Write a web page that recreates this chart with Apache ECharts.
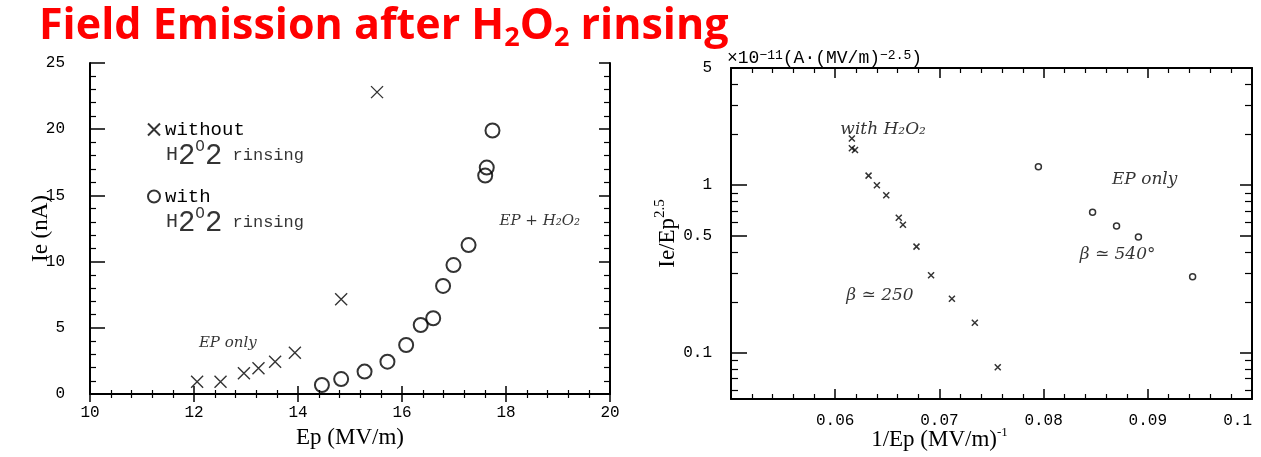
<!DOCTYPE html>
<html>
<head>
<meta charset="utf-8">
<title>Field Emission after H2O2 rinsing</title>
<script src="https://cdn.jsdelivr.net/npm/echarts/dist/echarts.min.js"></script>
<style>
  html, body { margin: 0; padding: 0; background: #fff; }
  #chart { width: 1261px; height: 457px; }
</style>
</head>
<body>
<div id="chart"></div>
<script>
// left panel: Ie (nA) vs Ep (MV/m)
const epWithout = [12.06, 12.51, 12.96, 13.24, 13.56, 13.94, 14.83, 15.52];
const ieWithout = [0.93, 0.93, 1.56, 1.94, 2.44, 3.12, 7.15, 22.8];
const epWith = [14.46, 14.83, 15.28, 15.72, 16.08, 16.36, 16.60, 16.79, 16.99, 17.28, 17.60, 17.63, 17.74];
const ieWith = [0.68, 1.13, 1.69, 2.44, 3.70, 5.21, 5.72, 8.16, 9.74, 11.25, 16.5, 17.1, 19.9];

// right panel: Ie/Ep^2.5 vs 1/Ep, log scale
const invEpH2O2 = [0.0616, 0.0616, 0.0619, 0.0632, 0.0640, 0.0649, 0.0661, 0.0665, 0.0678, 0.0692, 0.0712, 0.0734, 0.0756];
const fnH2O2 = [1.90, 1.66, 1.62, 1.14, 1.00, 0.87, 0.64, 0.58, 0.43, 0.29, 0.21, 0.151, 0.082];
const invEpOnly = [0.0795, 0.0847, 0.0870, 0.0891, 0.0943];
const fnOnly = [1.29, 0.69, 0.57, 0.49, 0.284];

// log axis labels / ticks
const fnLabels = [0.1, 0.5, 1, 5];
const fnMinorTicks = [0.06, 0.07, 0.08, 0.09, 0.2, 0.3, 0.4, 0.6, 0.7, 0.8, 0.9, 2, 3, 4];

// hand written notes (data coords)
const legendLines = [[11.46, 18.05, 'h2o2'], [11.46, 12.99, 'h2o2']];
const leftNotes = [[12.65, 3.85, 'EP only'], [18.65, 13.07, 'EP + H₂O₂']];
const rightNotes = [[0.0646, 2.16, 'with H₂O₂'], [0.0643, 0.219, 'β ≃ 250'], [0.0897, 1.086, 'EP only'], [0.0871, 0.386, 'β ≃ 540°']];

const black = '#000';
const serif = 'Liberation Serif';
const mono = 'Liberation Mono';
const hand = 'DejaVu Serif';
const crossSymbol = 'path://M0,0L10,10M10,0L0,10';

const zip = (xs, ys) => xs.map((x, i) => [x, ys[i]]);

const chart = echarts.init(document.getElementById('chart'));

const line = { lineStyle: { color: black, width: 2 } };
const tickLabel = { color: black, fontFamily: mono, fontSize: 16 };

const leftX = {
  gridIndex: 0,
  type: 'value',
  min: 10,
  max: 20,
  interval: 2,
  axisLine: line,
  axisTick: { inside: true, length: 8, lineStyle: { color: black, width: 1.5 } },
  minorTick: { show: true, splitNumber: 5, length: 4, lineStyle: { color: black, width: 1.2 } },
  splitLine: { show: false },
};

const leftY = {
  gridIndex: 0,
  type: 'value',
  min: 0,
  max: 25,
  interval: 5,
  axisLine: line,
  axisTick: { inside: true, length: 15, lineStyle: { color: black, width: 1.5 } },
  minorTick: { show: true, splitNumber: 5, length: 6, lineStyle: { color: black, width: 1.2 } },
  splitLine: { show: false },
};

const rightX = {
  gridIndex: 1,
  type: 'value',
  min: 0.05,
  max: 0.1,
  interval: 0.01,
  axisLine: line,
  axisTick: { inside: true, length: 10, lineStyle: { color: black, width: 1.5 } },
  minorTick: { show: true, splitNumber: 5, length: 5, lineStyle: { color: black, width: 1.2 } },
  splitLine: { show: false },
};

const rightY = {
  gridIndex: 1,
  type: 'log',
  logBase: 10,
  min: 0.053,
  max: 5.001,
  axisLine: line,
  splitLine: { show: false },
  axisLabel: { show: false },
};

const notesSeries = (xi, yi, data, fontSize, align) => ({
  type: 'scatter',
  xAxisIndex: xi,
  yAxisIndex: yi,
  symbolSize: 0,
  silent: true,
  data: data.map(d => ({ value: [d[0], d[1]], name: d[2] })),
  label: {
    show: true,
    position: 'inside',
    align: align,
    formatter: p => p.name === 'h2o2' ? '{n|H}{s|2}{o|O}{s|2}{r| rinsing}' : p.name,
    color: black,
    fontFamily: hand,
    fontStyle: 'italic',
    fontSize: fontSize,
    rich: {
      n: { fontFamily: mono, fontStyle: 'normal', fontSize: 20, color: black, lineHeight: 28 },
      o: { fontFamily: mono, fontStyle: 'normal', fontSize: 16, color: black, verticalAlign: 'top', lineHeight: 26 },
      s: { fontFamily: mono, fontStyle: 'normal', fontSize: 29, color: black, verticalAlign: 'bottom', lineHeight: 24 },
      r: { fontFamily: mono, fontStyle: 'normal', fontSize: 17, color: black, lineHeight: 32 },
    },
  },
});

chart.setOption({
  animation: false,
  backgroundColor: '#fff',
  title: {
    text: '{a|Field Emission after H}{b|2}{a|O}{b|2}{a| rinsing}',
    left: 39,
    top: 2,
    padding: 0,
    textStyle: {
      rich: {
        a: { fontFamily: 'Open Sans', fontWeight: 'bold', fontSize: 43, color: '#ff0000', lineHeight: 50 },
        b: { fontFamily: 'Open Sans', fontWeight: 'bold', fontSize: 27, color: '#ff0000', verticalAlign: 'bottom', lineHeight: 24 },
      },
    },
  },
  legend: {
    data: ['without', 'with'],
    orient: 'vertical',
    left: 142,
    top: 115,
    itemGap: 48,
    itemWidth: 12,
    itemHeight: 12,
    textStyle: { color: black, fontFamily: mono, fontSize: 19 },
  },
  grid: [
    { left: 90, top: 63, width: 520, height: 331, outerBoundsMode: 'none', containLabel: false },
    { left: 731, top: 68, width: 521, height: 331, outerBoundsMode: 'none', containLabel: false },
  ],
  xAxis: [
    {
      ...leftX,
      position: 'bottom',
      axisLabel: { ...tickLabel, margin: 11 },
      name: 'Ep (MV/m)',
      nameLocation: 'middle',
      nameGap: 32,
      nameTextStyle: { color: black, fontFamily: serif, fontSize: 23 },
    },
    { ...leftX, position: 'top', axisLabel: { show: false } },
    {
      ...rightX,
      position: 'bottom',
      axisLabel: { ...tickLabel, margin: 14, showMinLabel: false, alignMaxLabel: 'right' },
      name: '{n|1/Ep (MV/m)}{s|-1}',
      nameLocation: 'middle',
      nameGap: 27,
      nameMoveOverlap: false,
      nameTextStyle: {
        padding: [0, 104, 0, 0],
        rich: {
          n: { color: black, fontFamily: serif, fontSize: 23, lineHeight: 28 },
          s: { color: black, fontFamily: serif, fontSize: 13, verticalAlign: 'top', lineHeight: 14 },
        },
      },
    },
    { ...rightX, position: 'top', axisLabel: { show: false } },
  ],
  yAxis: [
    {
      ...leftY,
      position: 'left',
      axisLabel: { ...tickLabel, margin: 25 },
      name: 'Ie (nA)',
      nameLocation: 'middle',
      nameGap: 38,
      nameMoveOverlap: false,
      nameTextStyle: { color: black, fontFamily: serif, fontSize: 23 },
    },
    {
      ...leftY,
      position: 'right',
      axisTick: { ...leftY.axisTick, length: 11 },
      axisLabel: { show: false },
    },
    {
      ...rightY,
      position: 'left',
      axisTick: { inside: true, length: 16, customValues: fnLabels, lineStyle: { color: black, width: 1.5 } },
      axisLabel: { ...tickLabel, show: true, margin: 19, customValues: fnLabels },
      name: '{n|Ie/Ep}{s|2.5}',
      nameLocation: 'middle',
      nameGap: 44,
      nameTextStyle: {
        rich: {
          n: { color: black, fontFamily: serif, fontSize: 23, lineHeight: 30 },
          s: { color: black, fontFamily: serif, fontSize: 15, verticalAlign: 'top', lineHeight: 15 },
        },
      },
    },
    {
      ...rightY,
      position: 'right',
      axisTick: { inside: true, length: 12, customValues: fnLabels, lineStyle: { color: black, width: 1.5 } },
    },
    {
      ...rightY,
      position: 'left',
      axisLine: { show: false },
      axisTick: { inside: true, length: 7, customValues: fnMinorTicks, lineStyle: { color: black, width: 1.2 } },
      name: '×10{s|−11}(A·(MV/m){s|−2.5})',
      nameLocation: 'end',
      nameGap: 1,
      nameTextStyle: {
        align: 'left',
        padding: [0, 0, 0, -4],
        color: black,
        fontFamily: mono,
        fontSize: 18,
        rich: { s: { color: black, fontFamily: mono, fontSize: 13, verticalAlign: 'top', lineHeight: 12 } },
      },
    },
    {
      ...rightY,
      position: 'right',
      axisLine: { show: false },
      axisTick: { inside: true, length: 7, customValues: fnMinorTicks, lineStyle: { color: black, width: 1.2 } },
    },
  ],
  series: [
    {
      name: 'without',
      type: 'scatter',
      xAxisIndex: 0,
      yAxisIndex: 0,
      symbol: crossSymbol,
      symbolSize: 12,
      itemStyle: { color: 'rgba(0,0,0,0)', borderColor: black, borderWidth: 1.4 },
      data: zip(epWithout, ieWithout),
    },
    {
      name: 'with',
      type: 'scatter',
      xAxisIndex: 0,
      yAxisIndex: 0,
      symbol: 'circle',
      symbolSize: 14,
      itemStyle: { color: 'rgba(0,0,0,0)', borderColor: black, borderWidth: 2 },
      data: zip(epWith, ieWith),
    },
    {
      name: 'EP + H2O2',
      type: 'scatter',
      xAxisIndex: 2,
      yAxisIndex: 2,
      symbol: crossSymbol,
      symbolSize: 6,
      itemStyle: { color: 'rgba(0,0,0,0)', borderColor: black, borderWidth: 1.5 },
      data: zip(invEpH2O2, fnH2O2),
    },
    {
      name: 'EP only',
      type: 'scatter',
      xAxisIndex: 2,
      yAxisIndex: 2,
      symbol: 'circle',
      symbolSize: 6,
      itemStyle: { color: 'rgba(0,0,0,0)', borderColor: black, borderWidth: 1.5 },
      data: zip(invEpOnly, fnOnly),
    },
    notesSeries(0, 0, legendLines, 17, 'left'),
    notesSeries(0, 0, leftNotes, 15, 'center'),
    notesSeries(2, 2, rightNotes, 17, 'center'),
  ],
});
</script>
</body>
</html>
